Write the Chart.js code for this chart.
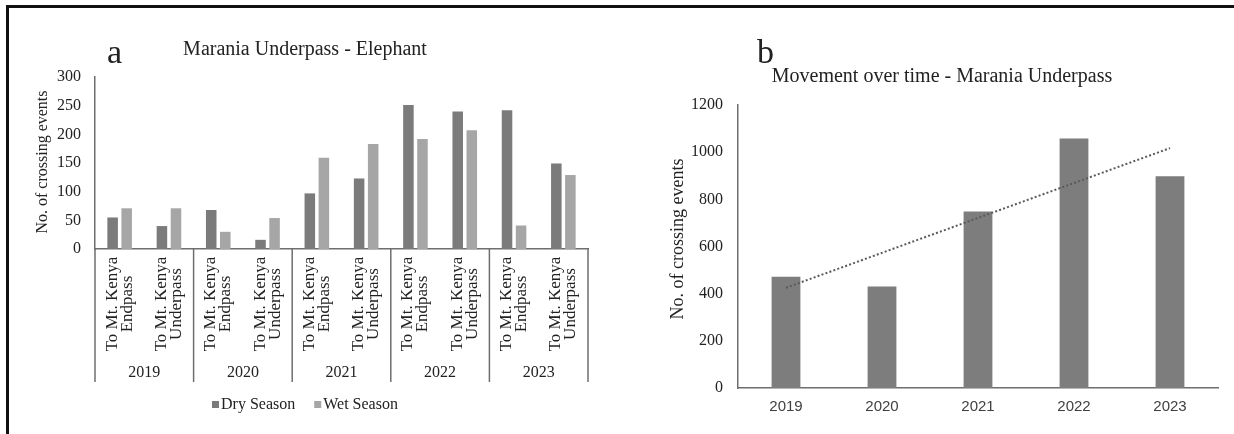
<!DOCTYPE html>
<html>
<head>
<meta charset="utf-8">
<script src="https://cdn.jsdelivr.net/npm/chart.js@4.4.1/dist/chart.umd.min.js"></script>
<style>
  html, body { margin: 0; padding: 0; background: #fff; }
  body { width: 1234px; height: 434px; position: relative; overflow: hidden; }
  #frame { position: absolute; left: 6px; top: 5px; width: 1240px; height: 440px;
           border-top: 3px solid #111; border-left: 3px solid #111; }
  #wa { position: absolute; left: 0; top: 0; width: 640px; height: 434px; }
  #wb { position: absolute; left: 640px; top: 0; width: 594px; height: 434px; }
</style>
</head>
<body>
<div id="frame"></div>
<div id="wa"><canvas id="ca" width="640" height="434"></canvas></div>
<div id="wb"><canvas id="cb" width="594" height="434"></canvas></div>
<script>
// ---- data ----
const years = ['2019', '2020', '2021', '2022', '2023'];
const crossingTypes = [['To Mt. Kenya', 'Endpass'], ['To Mt. Kenya', 'Underpass']];
// elephant crossings per year and crossing type (Endpass, Underpass for each year)
const drySeason = [55, 40, 68, 16, 97, 123, 251, 240, 242, 149];
const wetSeason = [71, 71, 30, 54, 159, 183, 192, 207, 41, 129];
// total crossing events per year at the Marania underpass
const yearlyTotals = [472, 430, 748, 1058, 898];
const seasonNames = ['Dry Season', 'Wet Season'];

// ---- shared styling ----
const SERIF = '"Liberation Serif", "Times New Roman", serif';
const SANS = '"Liberation Sans", Arial, sans-serif';
const AXIS = '#6e6e6e';
const TEXT = '#222';
const DARK = '#7b7b7b';
const LIGHT = '#a6a6a6';

// categories: one per (year, crossing type)
const categoryLabels = [];
years.forEach(y => crossingTypes.forEach(t => categoryLabels.push(y + ' ' + t.join(' '))));

// least-squares linear trend through the yearly totals
const n = yearlyTotals.length;
const meanX = (n - 1) / 2;
const meanY = yearlyTotals.reduce((a, b) => a + b, 0) / n;
let sxy = 0, sxx = 0;
yearlyTotals.forEach((v, i) => { sxy += (i - meanX) * (v - meanY); sxx += (i - meanX) * (i - meanX); });
const slope = sxy / sxx;
const trend = yearlyTotals.map((_, i) => meanY + slope * (i - meanX));

function rotatedText(ctx, text, x, y) {
  ctx.save();
  ctx.translate(x, y);
  ctx.rotate(-Math.PI / 2);
  ctx.fillText(text, 0, 0);
  ctx.restore();
}

// panel a: heading, axis title, two-level category axis and legend
const panelA = {
  id: 'panelA',
  afterDraw(chart) {
    const ctx = chart.ctx;
    const xs = chart.scales.x;
    const area = chart.chartArea;
    ctx.save();
    ctx.fillStyle = TEXT;
    ctx.textBaseline = 'alphabetic';
    ctx.textAlign = 'left';
    ctx.font = '34px ' + SERIF;
    ctx.fillText('a', 107, 63);
    ctx.textAlign = 'center';
    ctx.font = '20px ' + SERIF;
    ctx.fillText('Marania Underpass - Elephant', 305, 55);

    ctx.textBaseline = 'middle';
    ctx.font = '16px ' + SERIF;
    rotatedText(ctx, 'No. of crossing events', 43, 162);

    // crossing-type labels, two rotated lines per category
    ctx.font = '17px ' + SERIF;
    categoryLabels.forEach((_, i) => {
      const cx = xs.getPixelForValue(i);
      const lines = crossingTypes[i % crossingTypes.length];
      rotatedText(ctx, lines[0], cx - 7.5, 304);
      rotatedText(ctx, lines[1], cx + 7.5, 304);
    });

    // year group labels and separators
    ctx.font = '16px ' + SERIF;
    const step = xs.getPixelForValue(1) - xs.getPixelForValue(0);
    ctx.strokeStyle = AXIS;
    ctx.lineWidth = 1.5;
    years.forEach((y, k) => {
      const first = xs.getPixelForValue(2 * k);
      const last = xs.getPixelForValue(2 * k + 1);
      ctx.fillText(y, (first + last) / 2, 373);
      const left = first - step / 2;
      ctx.beginPath();
      ctx.moveTo(left, area.bottom);
      ctx.lineTo(left, 382);
      ctx.stroke();
      if (k === years.length - 1) {
        ctx.beginPath();
        ctx.moveTo(last + step / 2, area.bottom);
        ctx.lineTo(last + step / 2, 382);
        ctx.stroke();
      }
    });

    // legend
    let lx = 212;
    ctx.textAlign = 'left';
    chart.data.datasets.forEach(ds => {
      ctx.fillStyle = ds.backgroundColor;
      ctx.fillRect(lx, 401, 7, 7);
      ctx.fillStyle = TEXT;
      ctx.fillText(ds.label, lx + 9, 405);
      lx += 9 + ctx.measureText(ds.label).width + 19;
    });
    ctx.restore();
  }
};

new Chart(document.getElementById('ca'), {
  type: 'bar',
  data: {
    labels: categoryLabels,
    datasets: [
      { label: seasonNames[0], data: drySeason, backgroundColor: DARK },
      { label: seasonNames[1], data: wetSeason, backgroundColor: LIGHT }
    ]
  },
  options: {
    responsive: false,
    animation: false,
    devicePixelRatio: 1,
    layout: { padding: { top: 77, right: 52, left: 0, bottom: 0 } },
    datasets: { bar: { categoryPercentage: 0.57, barPercentage: 0.75 } },
    plugins: { legend: { display: false }, tooltip: { enabled: false } },
    scales: {
      x: {
        grid: { display: false, drawTicks: false },
        border: { display: true, color: AXIS, width: 1.5 },
        ticks: { display: false },
        afterFit(s) { s.height = 185; }
      },
      y: {
        min: 0, max: 300,
        grid: { display: false, drawTicks: false },
        border: { display: true, color: AXIS, width: 1.5 },
        ticks: { stepSize: 50, padding: 14, color: TEXT, font: { family: SERIF, size: 16 } },
        afterFit(s) { s.width = 95; }
      }
    }
  },
  plugins: [panelA]
});

// panel b: heading and axis title
const panelB = {
  id: 'panelB',
  afterDraw(chart) {
    const ctx = chart.ctx;
    ctx.save();
    ctx.fillStyle = TEXT;
    ctx.textBaseline = 'alphabetic';
    ctx.textAlign = 'left';
    ctx.font = '34px ' + SERIF;
    ctx.fillText('b', 117, 63);
    ctx.textAlign = 'center';
    ctx.font = '20px ' + SERIF;
    ctx.fillText('Movement over time - Marania Underpass', 302, 82);
    ctx.textBaseline = 'middle';
    ctx.font = '18px ' + SERIF;
    rotatedText(ctx, 'No. of crossing events', 38, 239);
    ctx.restore();
  }
};

new Chart(document.getElementById('cb'), {
  type: 'bar',
  data: {
    labels: years,
    datasets: [
      {
        type: 'line', label: 'Linear trend', data: trend,
        borderColor: '#5a5a5a', borderWidth: 2, borderDash: [2, 2.2],
        pointRadius: 0, fill: false, tension: 0, order: 0
      },
      {
        label: 'Crossing events', data: yearlyTotals, backgroundColor: '#7d7d7d',
        barPercentage: 0.3, categoryPercentage: 1, order: 1
      }
    ]
  },
  options: {
    responsive: false,
    animation: false,
    devicePixelRatio: 1,
    layout: { padding: { top: 105, right: 16, left: 0, bottom: 0 } },
    plugins: { legend: { display: false }, tooltip: { enabled: false } },
    scales: {
      x: {
        grid: { display: false, drawTicks: false },
        border: { display: true, color: AXIS, width: 1.5 },
        ticks: { padding: 10, color: '#404040', font: { family: SANS, size: 15 } },
        afterFit(s) { s.height = 46; }
      },
      y: {
        min: 0, max: 1200,
        grid: { display: false, drawTicks: false },
        border: { display: true, color: AXIS, width: 1.5 },
        ticks: {
          stepSize: 200, padding: 15, color: TEXT, font: { family: SERIF, size: 16 },
          callback: v => String(v)
        },
        afterFit(s) { s.width = 98; }
      }
    }
  },
  plugins: [panelB]
});
</script>
</body>
</html>
